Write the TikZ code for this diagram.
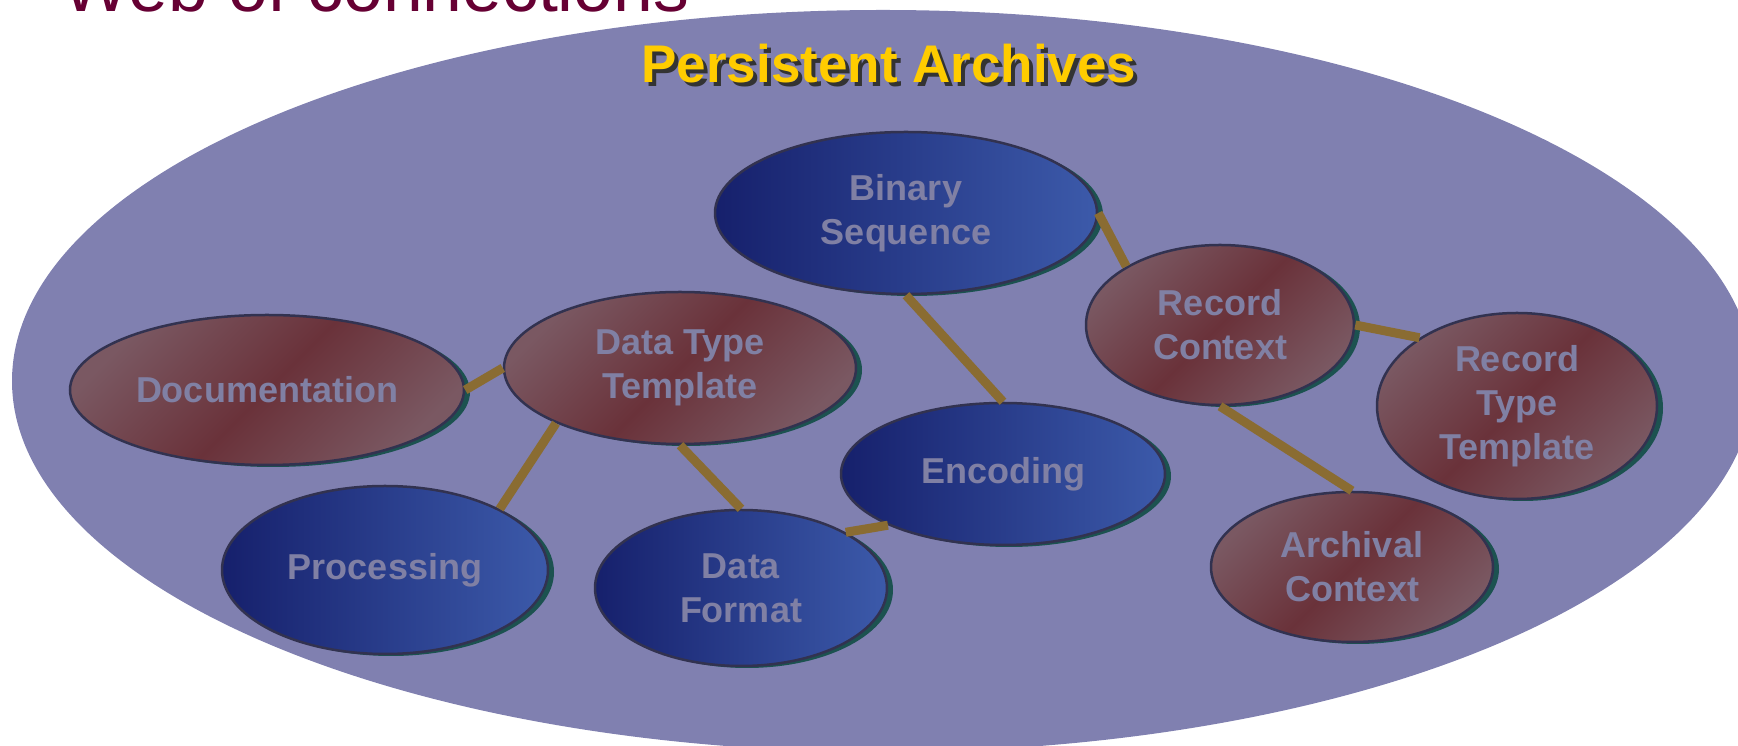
\documentclass[tikz,border=0pt]{standalone}
\usepackage{fontspec}
\setmainfont{Liberation Sans}
\usetikzlibrary{shapes.geometric,shadows}
\definecolor{bgcol}{RGB}{128,128,176}
\definecolor{redlight}{RGB}{122,88,98}
\definecolor{reddark}{RGB}{106,50,58}
\definecolor{blueleft}{RGB}{22,32,108}
\definecolor{blueright}{RGB}{60,90,170}
\definecolor{outl}{RGB}{50,50,80}
\definecolor{shad}{RGB}{28,82,80}
\definecolor{conncol}{RGB}{138,108,50}
\definecolor{txtcol}{RGB}{128,128,164}
\definecolor{titlecol}{RGB}{102,0,51}
\definecolor{gold}{RGB}{255,204,0}
\definecolor{goldshadow}{RGB}{51,51,51}
\tikzset{
  concept/.style={ellipse, draw=outl, line width=2.5pt, inner sep=0pt, align=center,
    text=txtcol, font=\fontsize{36}{44}\selectfont\bfseries,
    drop shadow={shadow xshift=6pt, shadow yshift=-2pt, fill=shad, opacity=1}},
  rednode/.style={concept, top color=redlight, bottom color=redlight, middle color=reddark, shading angle=45},
  bluenode/.style={concept, left color=blueleft, right color=blueright},
  conn/.style={draw=conncol, line width=9pt},
  titlefont/.style={font=\fontsize{53}{60}\selectfont\bfseries},
}
\begin{document}
\begin{tikzpicture}[x=1pt,y=1pt]
\useasboundingbox (0,0) rectangle (1738,746);
\node[ellipse, fill=bgcol, inner sep=0pt, minimum width=1742pt, minimum height=742pt] (pa) at (883,365) {};
\node[anchor=base west, text=titlecol, font=\fontsize{71.5}{80}\selectfont] (web) at (59,734) {Web of connections};
\node[anchor=base, text=goldshadow, titlefont] (pashadow) at (893,659) {Persistent Archives};
\node[anchor=base, text=gold, titlefont] (patitle) at (889,663) {Persistent Archives};

\node[bluenode, minimum width=382pt, minimum height=162pt] (bin) at (906,533) {Binary\\Sequence};
\node[rednode, minimum width=268pt, minimum height=160pt] (rc) at (1220,421) {Record\\Context};
\node[rednode, minimum width=280pt, minimum height=186pt] (rtt) at (1517,340) {Record\\Type\\Template};
\node[rednode, minimum width=352pt, minimum height=152pt] (dt) at (680,378) {Data Type\\Template};
\node[rednode, minimum width=394pt, minimum height=150pt] (doc) at (267,356) {Documentation};
\node[bluenode, minimum width=326pt, minimum height=168pt] (proc) at (385,176) {Processing};
\node[bluenode, minimum width=292pt, minimum height=156pt] (df) at (741,158) {Data\\Format};
\node[bluenode, minimum width=324pt, minimum height=142pt] (enc) at (1003,272) {Encoding};
\node[rednode, minimum width=282pt, minimum height=150pt] (arch) at (1352,179) {Archival\\Context};

\draw[conn] (doc.east) -- (dt.west);
\draw[conn] (dt.204) -- (proc.28);
\draw[conn] (dt.south) -- (df.north);
\draw[conn] (df.28) -- (enc.204);
\draw[conn] (bin.south) -- (enc.north);
\draw[conn] (bin.east) -- (rc.148);
\draw[conn] (rc.east) -- (rtt.145);
\draw[conn] (rc.south) -- (arch.north);
\end{tikzpicture}
\end{document}
